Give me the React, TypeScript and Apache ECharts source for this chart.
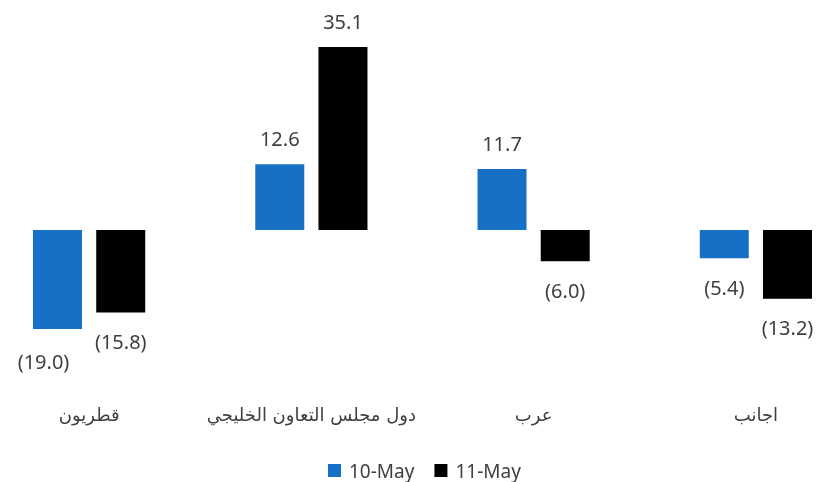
import React, { useEffect, useRef } from "react";
import * as echarts from "echarts";

const categories = ["قطريون", "دول مجلس التعاون الخليجي", "عرب", "اجانب"];
const seriesNames = ["10-May", "11-May"];
const may10 = [-19.0, 12.6, 11.7, -5.4];
const may11 = [-15.8, 35.1, -6.0, -13.2];

const fmt = (v: number) => (v < 0 ? `(${Math.abs(v).toFixed(1)})` : v.toFixed(1));

export default function App() {
  const ref = useRef<HTMLDivElement>(null);
  useEffect(() => {
    if (!ref.current) return;
    const chart = echarts.init(ref.current, null, { renderer: "svg" });
    const mkData = (arr: number[], isFirst: boolean) =>
      arr.map((v, i) => ({
        value: v,
        label: {
          position: v < 0 ? "bottom" : "top",
          distance: v < 0 ? 19 : 16,
          offset: isFirst && i === 0 ? [-14, 3] : [0, 0],
        },
      }));
    const labelBase = {
      show: true,
      fontSize: 20,
      color: "#404040",
      fontFamily: "Noto Sans, DejaVu Sans, sans-serif",
      formatter: (p: any) => fmt(p.value),
    };
    chart.setOption({
      animation: false,
      grid: { left: 0, right: 0, top: 21.5, bottom: 95.6, containLabel: false },
      legend: {
        top: 456,
        left: 345,
        itemWidth: 13,
        itemHeight: 13,
        itemGap: 20,
        icon: "rect",
        textStyle: {
          fontSize: 19,
          color: "#404040",
          fontFamily: "Noto Sans, DejaVu Sans, sans-serif",
          padding: [0, 0, 0, 3],
        },
        data: seriesNames,
      },
      xAxis: {
        type: "category",
        data: categories,
        axisLine: { show: false },
        axisTick: { show: false },
        axisLabel: {
          margin: 19,
          fontSize: 18,
          color: "#404040",
          fontFamily: "DejaVu Sans, Noto Sans, sans-serif",
          interval: 0,
        },
      },
      yAxis: {
        type: "value",
        min: -30,
        max: 40,
        show: false,
        splitLine: { show: false },
      },
      series: [
        {
          name: seriesNames[0],
          type: "bar",
          barWidth: 49,
          barGap: "29%",
          itemStyle: { color: "#1570C6" },
          label: labelBase,
          data: mkData(may10, true),
        },
        {
          name: seriesNames[1],
          type: "bar",
          barWidth: 49,
          barGap: "29%",
          itemStyle: { color: "#000000" },
          label: labelBase,
          data: mkData(may11, false),
        },
      ],
    });
    return () => chart.dispose();
  }, []);
  return (
    <div style={{ position: "fixed", left: 0, top: 0, width: 821, height: 482, overflow: "hidden" }}>
      <div ref={ref} style={{ position: "absolute", left: -22, top: 0, width: 889, height: 482 }} />
    </div>
  );
}
